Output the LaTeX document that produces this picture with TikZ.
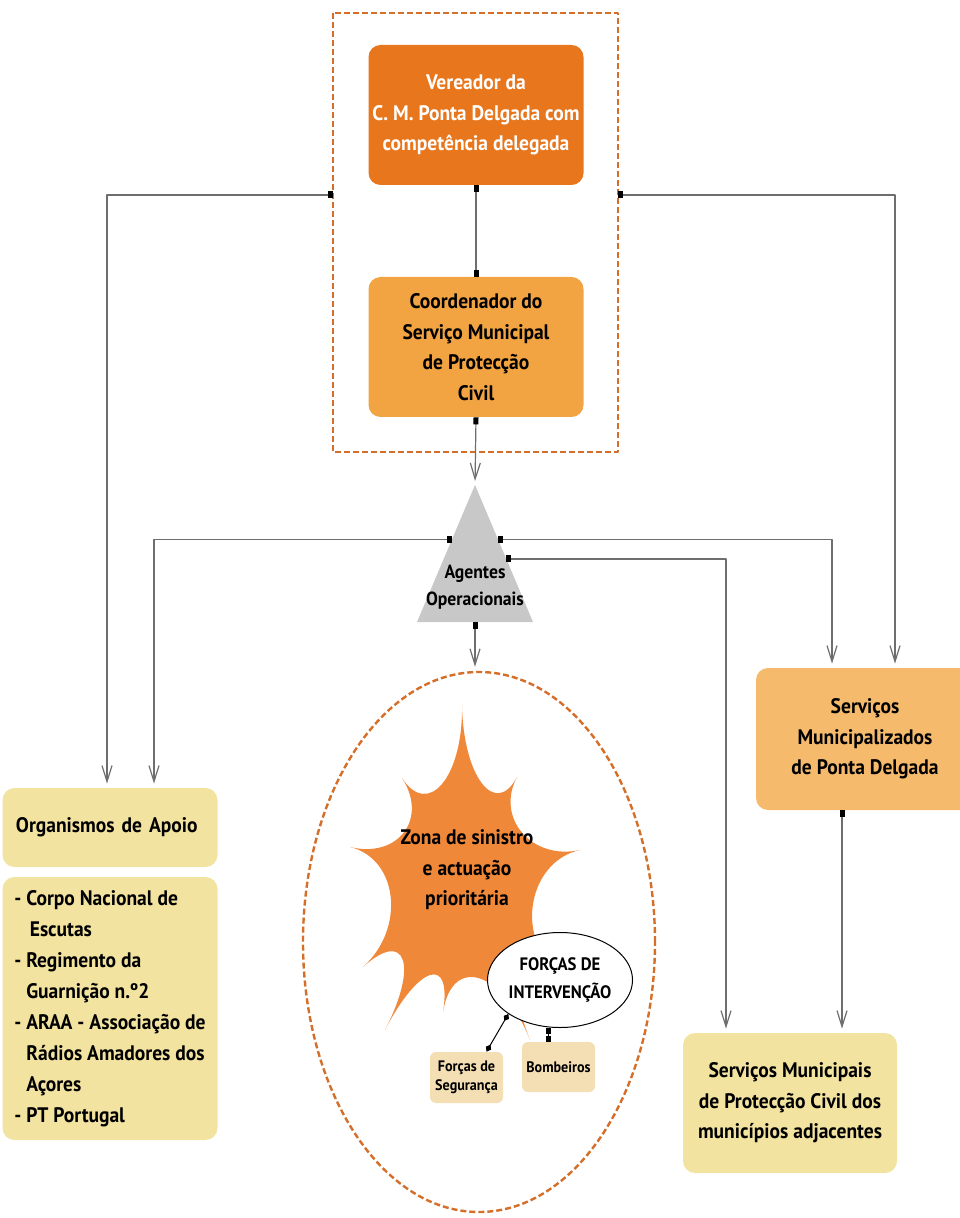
\documentclass[tikz,border=0pt]{standalone}
\usepackage{fontspec}
\setmainfont{PT Sans}[FakeStretch=0.93]
\usetikzlibrary{arrows.meta,shapes.geometric,calc}
\definecolor{laranjaEsc}{RGB}{232,118,28}
\definecolor{laranjaMed}{RGB}{242,164,66}
\definecolor{laranjaCla}{RGB}{246,186,108}
\definecolor{amareloCla}{RGB}{243,227,160}
\definecolor{beje}{RGB}{244,222,180}
\definecolor{estrela}{RGB}{240,136,58}
\definecolor{cinzaTri}{RGB}{200,200,200}
\definecolor{tracejado}{RGB}{212,110,40}
\definecolor{linha}{RGB}{110,110,110}
\begin{document}
\begin{tikzpicture}[x=0.5pt,y=-0.5pt,line join=round,
	font=\bfseries\fontsize{10.5}{15.25}\selectfont,
	caixa/.style={rounded corners=6pt,align=center,inner sep=0pt,minimum width=107.5pt,minimum height=70pt},
	moldura/.style={draw=tracejado,line width=1.2pt,dash pattern=on 3pt off 1.5pt},
	liga/.style={draw=linha,line width=0.6pt,shorten >=2pt,{Square[length=3.5pt,width=2.5pt,color=black,fill=black]}-{Straight Barb[length=8pt,width=5pt]}},
	ligah/.style={draw=linha,line width=0.6pt,shorten >=2pt,{Square[length=2.5pt,width=3.5pt,color=black,fill=black]}-{Straight Barb[length=8pt,width=5pt]}},
	nexo/.style={draw=black,line width=0.5pt},
	pequena/.style={rounded corners=3pt,fill=beje,align=center,inner sep=0pt,minimum width=36.5pt,minimum height=25.5pt,font=\bfseries\fontsize{7.6}{9.5}\selectfont}]
	\useasboundingbox (0,0) rectangle (959,1218);
	% bloco de coordenacao
	\node[caixa,fill=laranjaEsc,text=white] (ver) at (476,115) {Vereador da\\C. M. Ponta Delgada com\\competência delegada};
	\node[caixa,fill=laranjaMed] (coord) at (476,347) {Coordenador do\\Serviço Municipal\\de Protecção\\Civil};
	\draw[moldura] (333,13) rectangle (618,452);
	\coordinate (fesq) at (333,195); \coordinate (fdir) at (618,195);
	% triangulo dos agentes
	\coordinate (tapex) at (475,485); \coordinate (tesq) at (417,622); \coordinate (tdir) at (533,622);
	\fill[cinzaTri] (tapex) -- (tdir) -- (tesq) -- cycle;
	\node[font=\bfseries\fontsize{9.5}{13.5}\selectfont,align=center] (agentes) at (475,587) {Agentes\\Operacionais};
	\coordinate (tb) at (475,622);
	\coordinate (t1) at ($(tapex)!0.4!(tesq)$);
	\coordinate (t2) at ($(tapex)!0.4!(tdir)$);
	\coordinate (t3) at ($(tapex)!0.54!(tdir)$);
	% servicos
	\node[caixa,fill=laranjaCla,minimum width=109pt,minimum height=71pt] (smpd) at (865,739) {Serviços\\Municipalizados\\de Ponta Delgada};
	\node[caixa,fill=amareloCla,minimum width=107pt] (smpc) at (790,1103) {Serviços Municipais\\de Protecção Civil dos\\municípios adjacentes};
	% organismos de apoio
	\node[caixa,fill=amareloCla,minimum height=39.5pt,text width=100pt,align=left] (org) at (110,827.5) {\hspace*{3pt}Organismos de Apoio};
	\node[caixa,fill=amareloCla,minimum height=131.5pt,align=left,font=\bfseries\fontsize{10.5}{15.5}\selectfont] (lista) at (110,1008.5) {- Corpo Nacional de\\\phantom{- }\,Escutas\\- Regimento da\\\phantom{- }Guarnição n.º2\\- ARAA - Associação de\\\phantom{- }Rádios Amadores dos\\\phantom{- }Açores\\- PT Portugal};
	% zona de sinistro
	\node[ellipse,moldura,minimum width=176pt,minimum height=270pt] (zona) at (479,942) {};
	\coordinate (zc) at (465,875);
	\foreach \n/\x/\y in {1/462/705,2/517/777,3/580/850,4/552/967,5/530/1040,6/443/1012,7/385/1030,8/363/967,9/350/847,10/402/778}
		\coordinate (p\n) at (\x,\y);
	\fill[estrela] (p1) \foreach \a/\b in {1/2,2/3,3/4,4/5,5/6,6/7,7/8,8/9,9/10,10/1} { .. controls ($(p\a)!0.42!(zc)$) and ($(p\b)!0.42!(zc)$) .. (p\b) } -- cycle;
	\node[align=center] (zonatxt) at (467,870) {Zona de sinistro\\e actuação\\prioritária};
	\node[ellipse,draw=black,fill=white,line width=0.5pt,minimum width=57.5pt,minimum height=47.5pt,inner sep=0pt,font=\bfseries\fontsize{9}{14}\selectfont,align=center] (forint) at (560,980) {FORÇAS DE\\INTERVENÇÃO};
	\node[pequena] (seg) at (466.5,1077.5) {Forças de\\Segurança};
	\node[pequena,minimum height=25pt] (bomb) at (558.5,1067) {Bombeiros};
	% ligacoes
	\draw[draw=linha,line width=0.6pt,{Square[length=3.5pt,width=2.5pt,color=black,fill=black]}-{Square[length=3.5pt,width=2.5pt,color=black,fill=black]}] (ver.south) -- (coord.north);
	\draw[ligah] (fesq) -| ([xshift=-1.5pt]org.north);
	\draw[ligah] (fdir) -| ([xshift=15pt]smpd.north);
	\draw[liga] (coord.south) -- (tapex);
	\draw[ligah] (t1) -| ([xshift=22pt]org.north);
	\draw[ligah] (t2) -| ([xshift=-16.5pt]smpd.north);
	\draw[ligah] (t3) -| ([xshift=-32pt]smpc.north);
	\draw[liga] (tb) -- (tb |- zona.north);
	\draw[liga] ([xshift=-11.5pt]smpd.south) -- ([xshift=-11.5pt]smpd.south |- smpc.north);
	\draw[nexo,{Diamond[length=4pt,width=3pt]}-{Diamond[length=4pt,width=3pt]}] (forint.south west) -- ([xshift=10pt]seg.north);
	\draw[nexo,{Square[length=3pt,width=2.5pt]}-{Square[length=3pt,width=2.5pt]}] ([xshift=-6pt]forint.south) -- ([xshift=-6pt]forint.south |- bomb.north);
\end{tikzpicture}
\end{document}
